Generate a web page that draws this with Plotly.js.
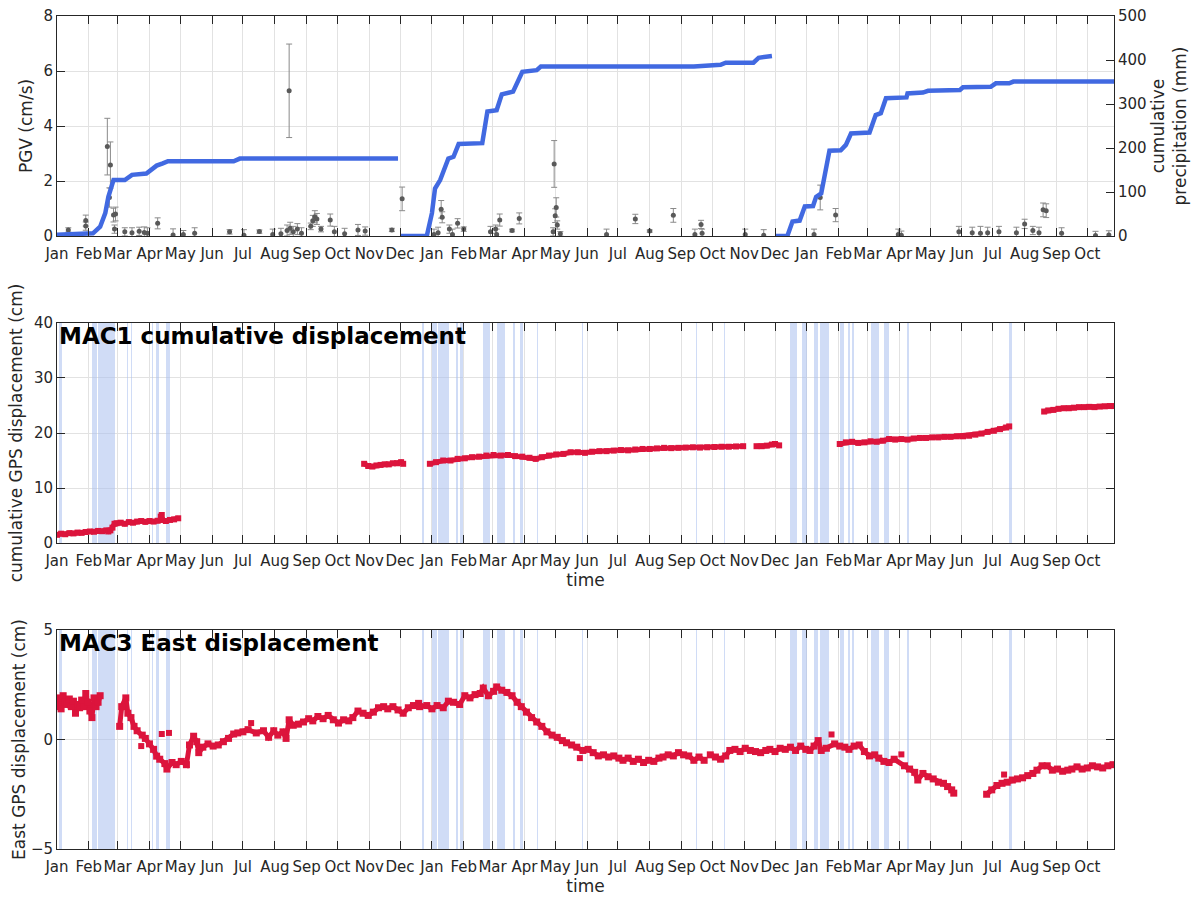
<!DOCTYPE html>
<html>
<head>
<meta charset="utf-8">
<script src="https://cdn.plot.ly/plotly-3.0.1.min.js"></script>
<style>html,body{margin:0;padding:0;background:#fff;}#chart{width:1200px;height:897px;}</style>
</head>
<body>
<div id="chart"></div>
<script>
// ---------- DATA ----------
const monthNames = ['Jan','Feb','Mar','Apr','May','Jun','Jul','Aug','Sep','Oct','Nov','Dec'];

// cumulative precipitation (mm), three seasons
const precip1Dates = ['2017-01-01','2017-02-05','2017-02-12','2017-02-17','2017-02-20','2017-02-23','2017-02-25','2017-03-08','2017-03-15','2017-03-29','2017-04-03','2017-04-08','2017-04-14','2017-04-19','2017-06-22','2017-06-28','2017-11-29'];
const precip1Mm    = [3,6,21,52,89,112,127,127,139,142,150,160,165,170,170,176,176];
const precip2Dates = ['2017-12-01','2017-12-27','2018-01-01','2018-01-04','2018-01-09','2018-01-17','2018-01-22','2018-01-27','2018-02-19','2018-02-24','2018-03-05','2018-03-10','2018-03-21','2018-03-25','2018-03-30','2018-04-13','2018-04-17','2018-09-13','2018-10-09','2018-10-14','2018-11-10','2018-11-15','2018-11-28'];
const precip2Mm    = [0,0,52,108,127,176,180,209,211,283,286,322,328,351,373,377,385,385,389,394,394,405,409];
const precip3Dates = ['2018-12-01','2018-12-13','2018-12-18','2018-12-25','2018-12-30','2019-01-07','2019-01-10','2019-01-15','2019-01-23','2019-02-03','2019-02-08','2019-02-13','2019-03-03','2019-03-09','2019-03-14','2019-03-19','2019-04-08','2019-04-09','2019-04-24','2019-04-29','2019-05-30','2019-06-02','2019-06-29','2019-07-04','2019-07-17','2019-07-21','2019-10-27'];
const precip3Mm    = [0,0,33,35,67,68,89,97,194,195,207,233,235,275,279,313,315,324,326,330,332,338,339,347,347,351,351];

// PGV (cm/s) with uncertainties
const pgvDates = ['2017-01-12','2017-01-29','2017-01-29','2017-02-19','2017-02-22','2017-02-21','2017-02-25','2017-02-27','2017-02-26','2017-03-08',
  '2017-03-15','2017-03-22','2017-03-27','2017-03-30','2017-04-09','2017-04-24','2017-05-04','2017-05-15','2017-06-18','2017-07-02',
  '2017-07-17','2017-07-30','2017-08-07','2017-08-15','2017-08-13','2017-08-16','2017-08-19','2017-08-23','2017-08-27','2017-09-05',
  '2017-09-07','2017-09-09','2017-09-11','2017-09-15','2017-09-24','2017-09-28','2017-10-08','2017-10-21','2017-10-28','2017-11-23',
  '2017-12-03','2018-01-10','2018-01-11','2018-01-07','2018-01-03','2018-01-18','2018-01-26','2018-02-01','2018-01-21','2018-02-27',
  '2018-03-04','2018-03-08','2018-03-05','2018-03-20','2018-03-27','2018-04-30','2018-05-02','2018-05-01','2018-05-03','2018-04-29',
  '2018-05-06','2018-06-20','2018-07-18','2018-08-01','2018-08-24','2018-09-14','2018-09-20','2018-09-21','2018-11-02','2018-11-20',
  '2019-01-08','2019-01-14','2019-01-29','2019-03-31','2019-04-03','2019-05-29','2019-06-11','2019-06-19','2019-06-26','2019-07-07',
  '2019-07-24','2019-08-01','2019-08-09','2019-08-19','2019-08-22','2019-08-15','2019-09-06','2019-10-09','2019-10-22'];
const pgvValues = [0.22,0.56,0.36,3.25,2.58,1.4,0.76,0.8,0.25,0.15,
  0.12,0.17,0.13,0.1,0.46,0.04,0.05,0.1,0.15,0.03,
  0.16,0.05,0.08,5.28,0.2,0.28,0.15,0.25,0.1,0.35,
  0.55,0.7,0.62,0.25,0.58,0.15,0.08,0.22,0.18,0.22,
  1.35,0.97,0.68,0.12,0.05,0.25,0.46,0.25,0.05,0.15,
  0.25,0.58,0.05,0.2,0.64,2.62,1.04,0.74,0.4,0.15,
  0.08,0.05,0.62,0.18,0.75,0.05,0.42,0.1,0.05,0.03,
  0.05,1.4,0.76,0.05,0.03,0.15,0.12,0.1,0.12,0.15,
  0.12,0.44,0.2,0.95,0.92,0.12,0.1,0.02,0.04];
const pgvErr = [0.08,0.2,0.15,1.03,0.84,0.35,0.25,0.25,0.15,0.15,
  0.18,0.15,0.2,0.2,0.2,0.22,0.15,0.2,0.08,0.2,
  0.06,0.2,0.2,1.7,0.2,0.22,0.2,0.2,0.2,0.12,
  0.2,0.22,0.2,0.1,0.22,0.2,0.2,0.2,0.15,0.06,
  0.43,0.32,0.2,0.2,0.2,0.15,0.17,0.08,0.2,0.2,
  0.15,0.22,0.2,0.05,0.2,0.85,0.35,0.25,0.15,0.15,
  0.08,0.2,0.17,0.04,0.25,0.2,0.15,0.15,0.2,0.2,
  0.2,0.45,0.24,0.2,0.15,0.2,0.2,0.25,0.2,0.2,
  0.2,0.17,0.15,0.25,0.25,0.2,0.2,0.15,0.15];
const pgvTimeErrDays = [6,3,2,2,2,2,2,3,9,8,
  7,8,7,7,3,7,6,8,4,8,
  5,8,7,2,7,8,7,8,6,6,
  2,2,2,6,2,8,7,8,7,5,
  2,2,3,6,4,8,3,5,4,7,
  6,3,4,6,2,2,3,2,3,7,
  8,9,3,6,2,3,3,5,7,7,
  7,2,2,7,4,7,7,6,7,7,
  7,3,8,3,3,7,7,7,7];

// MAC1 cumulative displacement (cm); null = data gap
const mac1Dates = ['2017-01-01','2017-01-05','2017-01-09','2017-01-13','2017-01-17','2017-01-21','2017-01-25','2017-01-29','2017-02-02','2017-02-06',
  '2017-02-10','2017-02-14','2017-02-18','2017-02-20','2017-02-22','2017-02-24','2017-02-26','2017-02-28','2017-03-04','2017-03-08',
  '2017-03-12','2017-03-16','2017-03-20','2017-03-24','2017-03-28','2017-04-01','2017-04-05','2017-04-09','2017-04-13',
  '2017-04-17','2017-04-21','2017-04-25','2017-04-29', null,
  '2017-10-27','2017-10-31','2017-11-04','2017-11-08','2017-11-12','2017-11-16','2017-11-20','2017-11-24','2017-11-28','2017-12-02','2017-12-04', null,
  '2017-12-30','2018-01-05','2018-01-12','2018-01-19','2018-01-26','2018-02-02','2018-02-09','2018-02-16','2018-02-23','2018-03-02',
  '2018-03-09','2018-03-16','2018-03-23','2018-03-30','2018-04-06','2018-04-12','2018-04-18','2018-04-25','2018-05-02','2018-05-09',
  '2018-05-16','2018-05-23','2018-05-30','2018-06-06','2018-06-13','2018-06-20','2018-06-27','2018-07-04','2018-07-11','2018-07-18',
  '2018-07-25','2018-08-01','2018-08-08','2018-08-15','2018-08-22','2018-08-29','2018-09-05','2018-09-12','2018-09-19','2018-09-26',
  '2018-10-03','2018-10-10','2018-10-17','2018-10-24','2018-10-31', null,
  '2018-11-13','2018-11-18','2018-11-23','2018-11-28','2018-12-01','2018-12-05', null,
  '2019-02-02','2019-02-08','2019-02-14','2019-02-20','2019-02-26','2019-03-04','2019-03-10','2019-03-16','2019-03-22','2019-03-28',
  '2019-04-03','2019-04-09','2019-04-15','2019-04-21','2019-04-27','2019-05-03','2019-05-09','2019-05-15','2019-05-21','2019-05-27',
  '2019-06-02','2019-06-08','2019-06-14','2019-06-20','2019-06-26','2019-07-02','2019-07-08','2019-07-14','2019-07-17', null,
  '2019-08-20','2019-08-24','2019-08-29','2019-09-03','2019-09-08','2019-09-13','2019-09-18','2019-09-23','2019-09-28','2019-10-03',
  '2019-10-08','2019-10-13','2019-10-18','2019-10-23','2019-10-27'];
const mac1Cm = [1.5,1.7,1.6,1.8,1.75,1.9,1.85,2.0,2.1,2.05,
  2.2,2.15,2.3,2.1,2.3,2.8,3.5,3.6,3.7,3.5,
  3.8,3.7,3.9,4.0,3.85,4.0,3.9,4.05,4.2,
  4.0,4.2,4.3,4.5, null,
  14.4,14.0,13.9,14.1,14.2,14.3,14.3,14.5,14.5,14.7,14.4, null,
  14.4,14.7,15.0,15.0,15.3,15.4,15.6,15.7,15.9,16.0,
  15.9,16.0,15.8,15.7,15.5,15.3,15.6,15.9,16.1,16.2,
  16.5,16.5,16.4,16.6,16.7,16.7,16.8,16.9,16.85,17.0,
  17.1,17.1,17.2,17.3,17.25,17.3,17.35,17.4,17.35,17.4,
  17.45,17.5,17.5,17.55,17.6, null,
  17.6,17.6,17.7,17.9,18.0,17.75, null,
  18.0,18.3,18.4,18.2,18.3,18.5,18.4,18.6,18.9,18.8,
  18.9,18.8,19.0,19.1,19.1,19.2,19.2,19.3,19.3,19.4,
  19.4,19.5,19.7,19.9,20.2,20.4,20.7,21.0,21.2, null,
  23.9,24.1,24.2,24.4,24.5,24.5,24.6,24.7,24.7,24.75,
  24.7,24.8,24.85,24.9,24.9];
const mac1OutlierDates = ['2017-04-12','2017-04-13'];
const mac1OutlierCm = [4.8,5.1];

// MAC3 East displacement (cm); null = data gap
const mac3Dates = ['2017-01-01','2017-01-03','2017-01-05','2017-01-07','2017-01-09','2017-01-11','2017-01-13','2017-01-15','2017-01-17','2017-01-19',
  '2017-01-21','2017-01-23','2017-01-25','2017-01-27','2017-01-29','2017-01-31','2017-02-02','2017-02-04','2017-02-06','2017-02-08',
  '2017-02-10','2017-02-12', null,
  '2017-03-03','2017-03-05','2017-03-09','2017-03-11','2017-03-14','2017-03-17','2017-03-20','2017-03-25','2017-03-28',
  '2017-04-01','2017-04-05','2017-04-08','2017-04-11','2017-04-16','2017-04-18','2017-04-23','2017-04-27',
  '2017-05-02','2017-05-07','2017-05-10','2017-05-14','2017-05-17','2017-05-19','2017-05-23','2017-05-28','2017-06-02','2017-06-07',
  '2017-06-12','2017-06-17','2017-06-22','2017-06-26','2017-07-01','2017-07-06','2017-07-14','2017-07-21','2017-07-26',
  '2017-07-31','2017-08-04','2017-08-09','2017-08-12','2017-08-15','2017-08-19','2017-08-24','2017-08-29','2017-09-03','2017-09-07',
  '2017-09-12','2017-09-17','2017-09-22','2017-09-27','2017-10-02','2017-10-07','2017-10-12','2017-10-16','2017-10-21','2017-10-26',
  '2017-10-31','2017-11-05','2017-11-10','2017-11-15','2017-11-19','2017-11-24','2017-11-29','2017-12-04','2017-12-09','2017-12-14',
  '2017-12-19','2017-12-20','2017-12-27','2018-01-01','2018-01-06','2018-01-12','2018-01-17','2018-01-22','2018-01-28','2018-02-02',
  '2018-02-07','2018-02-12','2018-02-17','2018-02-20','2018-02-25','2018-03-02','2018-03-05','2018-03-10','2018-03-15','2018-03-20',
  '2018-03-25','2018-03-29','2018-04-03','2018-04-08','2018-04-13','2018-04-18','2018-04-23','2018-04-28','2018-05-03','2018-05-08',
  '2018-05-12','2018-05-17','2018-05-22','2018-05-28','2018-06-02','2018-06-07','2018-06-12','2018-06-17','2018-06-22',
  '2018-06-27','2018-07-02','2018-07-06','2018-07-11','2018-07-16','2018-07-21','2018-07-26','2018-07-31','2018-08-05','2018-08-10',
  '2018-08-14','2018-08-19','2018-08-24','2018-08-29','2018-09-03','2018-09-08','2018-09-13','2018-09-18','2018-09-23', null,
  '2018-09-29','2018-10-04','2018-10-09','2018-10-14','2018-10-18','2018-10-23','2018-10-28','2018-11-02','2018-11-07','2018-11-12',
  '2018-11-17','2018-11-22','2018-11-26','2018-12-01','2018-12-06','2018-12-11','2018-12-16','2018-12-21','2018-12-26','2018-12-31',
  '2019-01-04','2019-01-08','2019-01-12','2019-01-15','2019-01-20','2019-01-28','2019-02-02','2019-02-07','2019-02-11',
  '2019-02-16','2019-02-21','2019-02-26','2019-03-03','2019-03-08','2019-03-12','2019-03-17','2019-03-22','2019-03-27',
  '2019-04-06','2019-04-11','2019-04-16','2019-04-19','2019-04-24','2019-04-29','2019-05-04','2019-05-09','2019-05-14','2019-05-18',
  '2019-05-22','2019-05-24', null,
  '2019-06-25','2019-06-30','2019-07-05','2019-07-10','2019-07-15','2019-07-20','2019-07-25','2019-07-30','2019-08-04',
  '2019-08-09','2019-08-13','2019-08-18','2019-08-23','2019-08-28','2019-09-02','2019-09-07','2019-09-12','2019-09-16','2019-09-21',
  '2019-09-26','2019-10-01','2019-10-06','2019-10-11','2019-10-16','2019-10-21','2019-10-26'];
const mac3Cm = [1.5,1.9,1.4,2.0,1.7,1.6,1.85,1.5,1.75,1.2,
  1.6,1.45,1.8,1.5,2.1,1.7,1.3,1.0,1.9,1.5,
  1.7,2.0, null,
  0.6,1.5,1.9,1.2,1.0,0.6,0.4,0.2,0.05,
  -0.2,-0.45,-0.76,-0.9,-1.1,-1.35,-1.05,-1.15,
  -1.0,-1.15,-0.25,0.15,-0.1,-0.6,-0.35,-0.2,-0.3,-0.25,
  -0.1,0.05,0.25,0.3,0.35,0.45,0.3,0.4,0.1,
  0.4,0.2,0.35,0.05,0.9,0.65,0.7,0.8,0.95,0.85,
  1.05,0.95,1.1,0.9,0.75,0.9,0.85,1.0,1.3,1.2,
  1.1,1.25,1.45,1.5,1.4,1.5,1.35,1.2,1.45,1.55,
  1.65,1.5,1.55,1.4,1.55,1.45,1.75,1.7,1.6,2.0,
  1.9,2.05,2.1,2.35,2.0,2.2,2.4,2.25,2.15,2.0,
  1.7,1.5,1.25,1.0,0.8,0.6,0.35,0.2,0.1,-0.05,
  -0.15,-0.25,-0.35,-0.5,-0.45,-0.6,-0.75,-0.7,-0.8,
  -0.75,-0.85,-0.95,-0.85,-1.0,-0.9,-1.05,-0.95,-1.0,-0.85,
  -0.8,-0.7,-0.75,-0.6,-0.7,-0.75,-0.95,-0.8,-0.95, null,
  -0.7,-0.8,-0.9,-0.75,-0.5,-0.45,-0.55,-0.4,-0.5,-0.55,
  -0.6,-0.5,-0.45,-0.55,-0.4,-0.45,-0.35,-0.5,-0.3,-0.45,
  -0.5,-0.3,-0.05,-0.5,-0.4,-0.2,-0.3,-0.35,-0.45,
  -0.3,-0.25,-0.55,-0.75,-0.7,-0.85,-1.0,-1.05,-0.9,
  -1.2,-1.35,-1.5,-1.85,-1.55,-1.7,-1.8,-1.95,-2.0,-2.15,
  -2.3,-2.45, null,
  -2.5,-2.3,-2.1,-2.0,-1.95,-1.85,-1.8,-1.75,-1.65,
  -1.55,-1.4,-1.2,-1.2,-1.4,-1.35,-1.45,-1.4,-1.35,-1.25,
  -1.35,-1.3,-1.2,-1.25,-1.3,-1.2,-1.15];
const mac3OutlierDates = ['2017-03-24','2017-04-13','2017-04-20','2017-07-09','2018-05-25','2019-01-25','2019-04-03','2019-07-12'];
const mac3OutlierCm = [-0.3,0.25,0.3,0.75,-0.85,0.23,-0.68,-1.6];

// rain-day bands shown behind the GPS panels
const bandStart = ['2017-01-03','2017-02-04','2017-02-10','2017-03-10','2017-03-14','2017-04-03','2017-04-07','2017-04-17',
  '2017-12-22','2018-01-01','2018-01-07','2018-01-24','2018-01-28','2018-02-20','2018-03-05','2018-03-21','2018-03-28','2018-04-13',
  '2018-05-27','2018-09-15','2018-10-12','2018-12-16','2018-12-27','2019-01-08','2019-01-14','2019-02-02','2019-02-10','2019-02-14',
  '2019-03-04','2019-03-17','2019-04-08','2019-07-17'];
const bandEnd = ['2017-01-06','2017-02-09','2017-02-26','2017-03-11','2017-03-15','2017-04-04','2017-04-10','2017-04-21',
  '2017-12-24','2018-01-06','2018-01-18','2018-01-26','2018-01-31','2018-02-27','2018-03-13','2018-03-23','2018-03-31','2018-04-14',
  '2018-05-28','2018-09-16','2018-10-13','2018-12-22','2019-01-01','2019-01-12','2019-01-23','2019-02-06','2019-02-12','2019-02-16',
  '2019-03-12','2019-03-22','2019-04-10','2019-07-20'];

// ---------- BUILD ----------
const DAY = 86400000;
const tickVals = [], tickText = [];
for (let y = 2017; y <= 2019; y++) {
  for (let m = 0; m < 12; m++) {
    if (y === 2019 && m > 9) break;
    tickVals.push(y + '-' + String(m + 1).padStart(2, '0') + '-01');
    tickText.push(monthNames[m]);
  }
}
const bandCenter = bandStart.map((s, i) => (Date.parse(s) + Date.parse(bandEnd[i])) / 2);
const bandWidth = bandStart.map((s, i) => Math.max(Date.parse(bandEnd[i]) - Date.parse(s), DAY));

const CRIMSON = 'rgb(220,20,60)';
const BLUE = 'rgb(65,105,225)';
const BAND = 'rgba(170,192,238,0.55)';
const INK = '#262626';
const GRID = '#e2e2e2';

function bandTrace(xa, ya, lo, hi) {
  return {type: 'bar', x: bandCenter, width: bandWidth, base: bandCenter.map(() => lo),
    y: bandCenter.map(() => hi - lo), xaxis: xa, yaxis: ya,
    marker: {color: BAND, line: {width: 0}}, hoverinfo: 'skip', showlegend: false};
}
const gpsMarker = (size) => ({symbol: 'square', size: size, color: CRIMSON});

const traces = [
  {type: 'scatter', mode: 'markers', x: pgvDates, y: pgvValues, xaxis: 'x', yaxis: 'y',
   marker: {size: 5, color: '#595959'},
   error_y: {type: 'data', array: pgvErr, visible: true, color: '#8a8a8a', thickness: 1, width: 3},
   error_x: {type: 'data', array: pgvTimeErrDays.map(d => d * DAY), visible: true, color: '#8a8a8a', thickness: 1, width: 3}},
  {type: 'scatter', mode: 'lines', x: precip1Dates, y: precip1Mm, xaxis: 'x', yaxis: 'y4', line: {color: BLUE, width: 4.5}},
  {type: 'scatter', mode: 'lines', x: precip2Dates, y: precip2Mm, xaxis: 'x', yaxis: 'y4', line: {color: BLUE, width: 4.5}},
  {type: 'scatter', mode: 'lines', x: precip3Dates, y: precip3Mm, xaxis: 'x', yaxis: 'y4', line: {color: BLUE, width: 4.5}},
  bandTrace('x2', 'y2', 0, 40),
  bandTrace('x3', 'y3', -5, 5),
  {type: 'scatter', mode: 'lines+markers', x: mac1Dates, y: mac1Cm, xaxis: 'x2', yaxis: 'y2',
   line: {color: CRIMSON, width: 5}, marker: gpsMarker(6)},
  {type: 'scatter', mode: 'markers', x: mac1OutlierDates, y: mac1OutlierCm, xaxis: 'x2', yaxis: 'y2', marker: gpsMarker(6)},
  {type: 'scatter', mode: 'lines+markers', x: mac3Dates, y: mac3Cm, xaxis: 'x3', yaxis: 'y3',
   line: {color: CRIMSON, width: 5}, marker: gpsMarker(7)},
  {type: 'scatter', mode: 'markers', x: mac3OutlierDates, y: mac3OutlierCm, xaxis: 'x3', yaxis: 'y3', marker: gpsMarker(6)}
];

const tickFont = {family: 'DejaVu Sans', size: 15, color: INK};
const titleFont = {family: 'DejaVu Sans', size: 17, color: INK};
function xAxis(anchor, withTitle) {
  const ax = {type: 'date', range: ['2017-01-01', '2019-10-27'], anchor: anchor,
    tickmode: 'array', tickvals: tickVals, ticktext: tickText, tickangle: 0, ticks: 'inside', ticklen: 8,
    ticklabelstandoff: 4,
    tickcolor: INK, showline: true, linecolor: INK, linewidth: 1, mirror: 'ticks',
    showgrid: true, gridcolor: GRID, zeroline: false, tickfont: tickFont, fixedrange: true};
  if (withTitle) ax.title = {text: 'time', font: titleFont, standoff: 2};
  return ax;
}
function yAxis(domain, range, dtick, title, mirror, standoff) {
  return {domain: domain, range: range, dtick: dtick, ticks: 'inside', ticklen: 8, tickcolor: INK,
    showline: true, linecolor: INK, linewidth: 1, mirror: mirror, showgrid: true, gridcolor: GRID,
    zeroline: false, tickfont: tickFont, title: {text: title, font: titleFont, standoff: standoff}, fixedrange: true};
}

const layout = {
  width: 1200, height: 897,
  margin: {l: 57, r: 86, t: 16, b: 48},
  paper_bgcolor: '#fff', plot_bgcolor: '#fff',
  showlegend: false, barmode: 'overlay', bargap: 0,
  font: {family: 'DejaVu Sans', color: INK},
  xaxis: xAxis('y', false),
  xaxis2: xAxis('y2', true),
  xaxis3: xAxis('y3', true),
  yaxis: yAxis([0.7359, 1], [0, 8], 2, 'PGV (cm/s)', false, 6),
  yaxis4: {overlaying: 'y', side: 'right', anchor: 'x', range: [0, 500], dtick: 100, ticks: 'inside', ticklen: 8,
    tickcolor: INK, showline: true, linecolor: INK, linewidth: 1, showgrid: false, zeroline: false,
    tickfont: tickFont, title: {text: 'cumulative<br>precipitation (mm)', font: titleFont, standoff: 6}, fixedrange: true},
  yaxis2: yAxis([0.3673, 0.6315], [0, 40], 10, 'cumulative GPS displacement (cm)', 'ticks', 6),
  yaxis3: yAxis([0, 0.2629], [-5, 5], 5, 'East GPS displacement (cm)', 'ticks', 0),
  annotations: [
    {xref: 'x2 domain', yref: 'y2 domain', x: 0, y: 1.01, xanchor: 'left', yanchor: 'top', showarrow: false,
     text: '<b>MAC1 cumulative displacement</b>', font: {family: 'DejaVu Sans', size: 23, color: '#000'}},
    {xref: 'x3 domain', yref: 'y3 domain', x: 0, y: 1.01, xanchor: 'left', yanchor: 'top', showarrow: false,
     text: '<b>MAC3 East displacement</b>', font: {family: 'DejaVu Sans', size: 23, color: '#000'}}
  ]
};

Plotly.newPlot('chart', traces, layout, {displayModeBar: false, staticPlot: true});
</script>
</body>
</html>
